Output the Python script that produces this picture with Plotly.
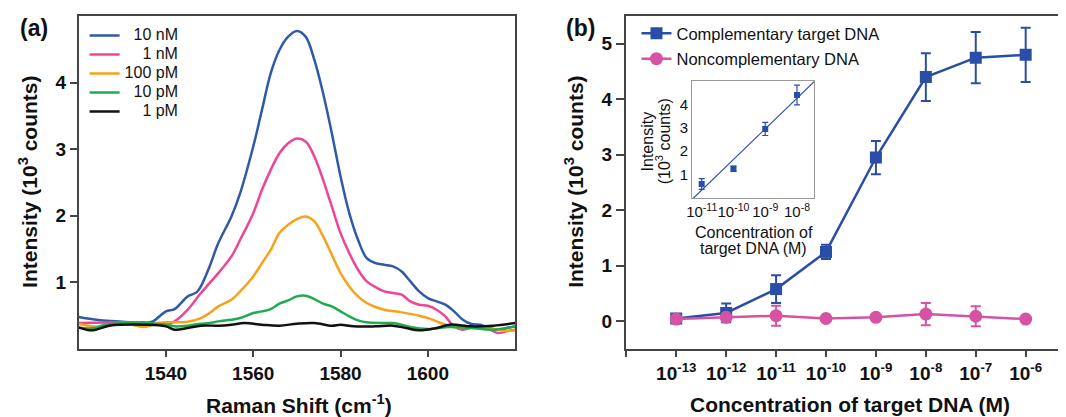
import numpy as np
import plotly.graph_objects as go

# ---------------- Panel (a) data: Raman spectra ----------------
x_10nM = [1520, 1525, 1530, 1535, 1537, 1540, 1542, 1545, 1547, 1548, 1550, 1552, 1555, 1557, 1560,
          1562, 1564, 1566, 1568, 1570, 1572, 1574, 1576, 1578, 1580, 1582, 1584, 1586, 1588, 1590,
          1592, 1594, 1596, 1598, 1600, 1602, 1604, 1606, 1608, 1610, 1612, 1614, 1616, 1618, 1620]
y_10nM = [0.48, 0.43, 0.41, 0.39, 0.415, 0.565, 0.60, 0.79, 0.85, 0.94, 1.24, 1.59, 1.99, 2.34, 3.04,
          3.59, 4.14, 4.49, 4.69, 4.775, 4.69, 4.34, 3.84, 3.24, 2.59, 2.04, 1.64, 1.365, 1.29, 1.265,
          1.24, 1.165, 1.015, 0.865, 0.765, 0.715, 0.665, 0.565, 0.44, 0.375, 0.365, 0.315, 0.29, 0.315, 0.34]

x_1nM = [1520, 1530, 1535, 1540, 1542, 1545, 1548, 1550, 1552, 1555, 1557, 1560, 1562, 1564, 1566,
         1568, 1570, 1572, 1574, 1576, 1578, 1580, 1582, 1584, 1586, 1588, 1590, 1592, 1594, 1596,
         1598, 1600, 1602, 1604, 1606, 1608, 1610, 1612, 1614, 1616, 1618, 1620]
y_1nM = [0.39, 0.40, 0.40, 0.365, 0.415, 0.59, 0.84, 0.99, 1.14, 1.39, 1.64, 2.04, 2.39, 2.69, 2.94,
         3.09, 3.16, 3.115, 2.89, 2.54, 2.14, 1.74, 1.44, 1.19, 1.015, 0.93, 0.865, 0.84, 0.815, 0.715,
         0.665, 0.65, 0.59, 0.49, 0.34, 0.29, 0.32, 0.33, 0.30, 0.24, 0.265, 0.29]

x_100pM = [1520, 1525, 1530, 1535, 1538, 1540, 1545, 1548, 1550, 1552, 1555, 1557, 1560, 1562, 1564,
           1566, 1568, 1570, 1572, 1574, 1576, 1578, 1580, 1582, 1584, 1586, 1588, 1590, 1594, 1598,
           1600, 1602, 1604, 1606, 1610, 1615, 1618, 1620]
y_100pM = [0.38, 0.33, 0.39, 0.33, 0.39, 0.40, 0.41, 0.465, 0.54, 0.64, 0.74, 0.865, 1.09, 1.29, 1.49,
           1.74, 1.865, 1.95, 1.99, 1.915, 1.69, 1.415, 1.14, 0.94, 0.79, 0.69, 0.63, 0.59, 0.55, 0.50,
           0.465, 0.415, 0.365, 0.33, 0.32, 0.30, 0.27, 0.28]

x_10pM = [1520, 1523, 1526, 1530, 1535, 1540, 1542, 1545, 1548, 1550, 1552, 1555, 1557, 1560, 1562,
          1564, 1566, 1568, 1570, 1572, 1574, 1576, 1578, 1580, 1582, 1584, 1586, 1590, 1592, 1594,
          1596, 1600, 1605, 1610, 1615, 1620]
y_10pM = [0.32, 0.31, 0.36, 0.39, 0.39, 0.365, 0.34, 0.35, 0.38, 0.39, 0.415, 0.44, 0.465, 0.54, 0.565,
          0.60, 0.68, 0.73, 0.79, 0.80, 0.75, 0.68, 0.64, 0.565, 0.49, 0.43, 0.40, 0.39, 0.39, 0.365,
          0.33, 0.30, 0.33, 0.315, 0.29, 0.34]

x_1pM = [1520, 1523, 1527, 1530, 1535, 1540, 1542, 1545, 1548, 1552, 1555, 1558, 1562, 1566, 1570,
         1574, 1578, 1580, 1583, 1588, 1592, 1595, 1598, 1602, 1605, 1610, 1615, 1620]
y_1pM = [0.325, 0.28, 0.35, 0.365, 0.365, 0.34, 0.29, 0.315, 0.35, 0.35, 0.365, 0.39, 0.365, 0.35, 0.38,
         0.39, 0.35, 0.365, 0.34, 0.34, 0.35, 0.315, 0.28, 0.315, 0.365, 0.34, 0.35, 0.39]

spectra_labels = ["10 nM", "1 nM", "100 pM", "10 pM", "1 pM"]
spectra_pad = [2, 4, 0, 2, 4]  # non-breaking spaces for right alignment
spectra_colors = ["#2f5aa8", "#ee4595", "#f7a21b", "#1fac4f", "#111111"]

# ---------------- Panel (b) data: concentration dependence ----------------
conc_exp = [-13, -12, -11, -10, -9, -8, -7, -6]
comp_mean = [0.05, 0.15, 0.58, 1.25, 2.95, 4.40, 4.75, 4.80]
comp_err = [0.04, 0.17, 0.25, 0.13, 0.30, 0.43, 0.46, 0.49]
noncomp_mean = [0.04, 0.07, 0.10, 0.05, 0.07, 0.13, 0.09, 0.04]
noncomp_err = [0.03, 0.03, 0.18, 0.03, 0.03, 0.20, 0.18, 0.03]

# inset (linear range)
inset_exp = [-11, -10, -9, -8]
inset_mean = [0.60, 1.25, 2.95, 4.40]
inset_err = [0.23, 0.11, 0.28, 0.42]
inset_tick_exp = [-11, -10, -9, -8]

main_tick_exp = [-14, -13, -12, -11, -10, -9, -8, -7, -6]

BLUE = "#2a4ea8"
PINK = "#d653a3"
FONT = "Liberation Sans"
W, H = 1066, 417
OX, OY = 8, 8  # page body margin offset


def px(x):
    return (x - OX) / W


def py(y):
    return 1 - (y - OY) / H


fig = go.Figure()

series_a = [(x_10nM, y_10nM), (x_1nM, y_1nM), (x_100pM, y_100pM), (x_10pM, y_10pM), (x_1pM, y_1pM)]
for (xs, ys), lab, pad, col in zip(series_a, spectra_labels, spectra_pad, spectra_colors):
    fig.add_trace(go.Scatter(
        x=xs, y=ys, mode="lines",
        name="<span style='font-size:16px'>" + "\u00a0" * pad + lab + "</span>",
        line=dict(color=col, width=2.5, shape="spline", smoothing=1.0),
        xaxis="x", yaxis="y", legend="legend",
    ))

fig.add_trace(go.Scatter(
    x=conc_exp, y=comp_mean, mode="lines+markers", name="Complementary target DNA",
    line=dict(color=BLUE, width=2.5),
    marker=dict(symbol="square", size=12, color=BLUE),
    error_y=dict(type="data", array=comp_err, color=BLUE, thickness=2, width=5),
    xaxis="x2", yaxis="y2", legend="legend2", legendgroup="comp",
))
fig.add_trace(go.Scatter(
    x=conc_exp, y=noncomp_mean, mode="lines+markers", name="Noncomplementary DNA",
    line=dict(color=PINK, width=2.5),
    marker=dict(symbol="circle", size=13, color=PINK),
    error_y=dict(type="data", array=noncomp_err, color=PINK, thickness=2, width=5),
    xaxis="x2", yaxis="y2", legend="legend2", legendgroup="non",
))

# inset linear fit
slope, intercept = np.polyfit(inset_exp, inset_mean, 1)
fit_x = np.array([-11.3, -7.45])
fig.add_trace(go.Scatter(
    x=fit_x, y=slope * fit_x + intercept, mode="lines", showlegend=False,
    line=dict(color=BLUE, width=1.2), xaxis="x3", yaxis="y3",
))
fig.add_trace(go.Scatter(
    x=inset_exp, y=inset_mean, mode="markers", showlegend=False,
    marker=dict(symbol="square", size=6, color=BLUE),
    error_y=dict(type="data", array=inset_err, color=BLUE, thickness=1.2, width=3),
    xaxis="x3", yaxis="y3",
))

tickfont_big = dict(family=FONT, size=19, color="#111", weight="bold")
axis_line = dict(showline=True, linecolor="#444", linewidth=1.5, zeroline=False, showgrid=False)
inset_tick = dict(family=FONT, size=15, color="#111")

# right edge of panel (b) lies beyond the visible page: extend the range accordingly
b_left_px, b_right_px = 623, W + OX
b_tick_px0, b_tick_step = 674.0, 50.2
b_range = [-13 - (b_tick_px0 - b_left_px) / b_tick_step,
           -13 + (b_right_px - b_tick_px0) / b_tick_step]

fig.update_layout(
    width=W, height=H, margin=dict(l=0, r=0, t=0, b=0),
    paper_bgcolor="white", plot_bgcolor="white",
    font=dict(family=FONT, color="#111"),
    xaxis=dict(domain=[px(73), px(512)], range=[1520, 1620], anchor="y",
               tickvals=[1540, 1560, 1580, 1600], ticks="outside", ticklen=6, tickwidth=1.5,
               tickcolor="#444", tickfont=tickfont_big, mirror=True, **axis_line),
    yaxis=dict(domain=[py(349), py(16)], range=[0, 5], anchor="x",
               tickvals=[1, 2, 3, 4], ticks="outside", ticklen=7, tickwidth=1.5,
               tickcolor="#444", tickfont=tickfont_big, mirror=True, **axis_line),
    xaxis2=dict(domain=[px(b_left_px), 1.0], range=b_range, anchor="y2",
                tickvals=main_tick_exp,
                ticktext=[""] + ["10<sup>%d</sup>" % e for e in main_tick_exp[1:]],
                ticks="outside", ticklen=6, tickwidth=1.5, tickcolor="#444",
                tickfont=tickfont_big, mirror=True, **axis_line),
    yaxis2=dict(domain=[py(349), py(16)], range=[-0.5, 5.5], anchor="x2",
                tickvals=[0, 1, 2, 3, 4, 5], ticks="outside", ticklen=8, tickwidth=1.5,
                tickcolor="#444", tickfont=tickfont_big, **axis_line),
    xaxis3=dict(domain=[px(690), px(813)], range=[-11.3, -7.45], anchor="y3",
                tickvals=inset_tick_exp, ticktext=["10<sup>%d</sup>" % e for e in inset_tick_exp],
                ticks="", tickangle=0, tickfont=dict(family=FONT, size=15, color="#111"),
                showline=True, linecolor="#999", linewidth=1, mirror=True,
                zeroline=False, showgrid=False),
    yaxis3=dict(domain=[py(198), py(81)], range=[0, 5], anchor="x3",
                tickvals=[1, 2, 3, 4], ticks="", tickfont=inset_tick,
                showline=True, linecolor="#999", linewidth=1, mirror=True,
                zeroline=False, showgrid=False),
    legend=dict(x=px(79), y=py(21), xanchor="left", yanchor="top",
                bgcolor="rgba(0,0,0,0)", font=dict(family=FONT, size=12, color="#111"),
                tracegroupgap=0, itemwidth=30),
    legend2=dict(x=px(634), y=py(16), xanchor="left", yanchor="top",
                 bgcolor="rgba(0,0,0,0)", font=dict(family=FONT, size=16.5, color="#111"),
                 tracegroupgap=1),
    showlegend=True,
)

ann_big = dict(family=FONT, size=21, color="#111", weight="bold")
small = dict(family=FONT, size=16, color="#111")
annotations = [
    dict(x=px(28), y=py(28), text="(a)", font=dict(family=FONT, size=23, color="#111", weight="bold")),
    dict(x=px(578), y=py(28), text="(b)", font=dict(family=FONT, size=23, color="#111", weight="bold")),
    dict(x=px(22), y=py(182), text="Intensity (10<sup>3</sup> counts)", textangle=-90, font=ann_big),
    dict(x=px(571), y=py(182), text="Intensity (10<sup>3</sup> counts)", textangle=-90, font=ann_big),
    dict(x=px(295), y=py(404), text="Raman Shift (cm<sup>-1</sup>)", font=ann_big),
    dict(x=px(849), y=py(404), text="Concentration of target DNA (M)", font=ann_big),
    dict(x=px(645), y=py(141), text="Intensity", textangle=-90, font=small),
    dict(x=px(661), y=py(141), text="(10<sup>3</sup> counts)", textangle=-90, font=small),
    dict(x=px(752), y=py(232), text="Concentration of", font=small),
    dict(x=px(752), y=py(249), text="target DNA (M)", font=small),
]
for a in annotations:
    a.update(xref="paper", yref="paper", showarrow=False, xanchor="center", yanchor="middle")
fig.update_layout(annotations=annotations)

fig.write_html("out.html")
